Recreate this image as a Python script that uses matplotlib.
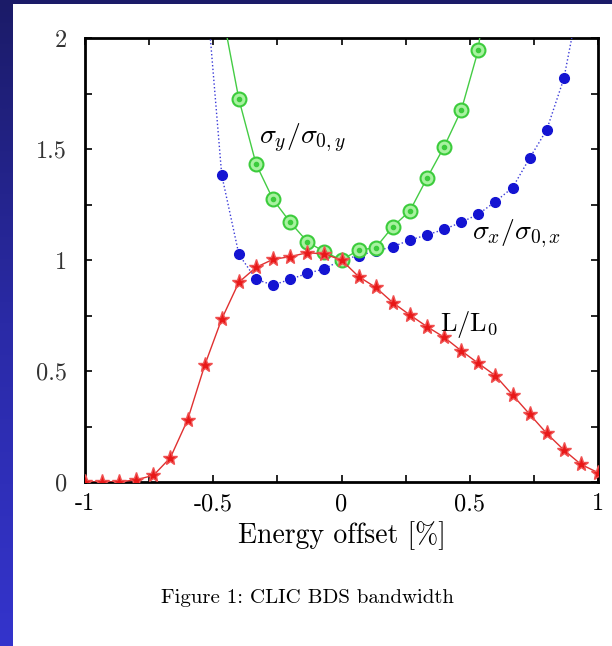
import numpy as np
import matplotlib.pyplot as plt
from matplotlib.colors import LinearSegmentedColormap

# energy offset [%] and normalised quantities
lum_x = [-1.0, -0.933, -0.867, -0.8, -0.733, -0.667, -0.6, -0.533, -0.467, -0.4,
         -0.333, -0.267, -0.2, -0.133, -0.067, 0.0, 0.067, 0.133, 0.2, 0.267,
         0.333, 0.4, 0.467, 0.533, 0.6, 0.667, 0.733, 0.8, 0.867, 0.933, 1.0]
lum_y = [0.0, 0.0, 0.0, 0.01, 0.03, 0.11, 0.28, 0.527, 0.734, 0.9,
         0.967, 1.003, 1.015, 1.033, 1.027, 1.0, 0.925, 0.877, 0.808, 0.752,
         0.70, 0.652, 0.591, 0.535, 0.479, 0.392, 0.306, 0.219, 0.144, 0.08, 0.042]

sx_x = [-0.533, -0.467, -0.4, -0.333, -0.267, -0.2, -0.133, -0.067, 0.0, 0.067,
        0.133, 0.2, 0.267, 0.333, 0.4, 0.467, 0.533, 0.6, 0.667, 0.733,
        0.8, 0.867, 0.933]
sx_y = [2.3, 1.383, 1.025, 0.913, 0.887, 0.913, 0.94, 0.96, 1.0, 1.02,
        1.04, 1.06, 1.09, 1.113, 1.138, 1.17, 1.206, 1.263, 1.326, 1.458,
        1.586, 1.818, 2.21]

sy_x = [-0.467, -0.4, -0.333, -0.267, -0.2, -0.133, -0.067, 0.0, 0.067, 0.133,
        0.2, 0.267, 0.333, 0.4, 0.467, 0.533, 0.6]
sy_y = [2.13, 1.724, 1.432, 1.273, 1.17, 1.082, 1.037, 1.0, 1.045, 1.055,
        1.15, 1.222, 1.368, 1.51, 1.675, 1.945, 2.6]

xticks = [-1, -0.5, 0, 0.5, 1]
xticklabels = ['-1', '-0.5', '0', '0.5', '1']
yticks = [0, 0.5, 1, 1.5, 2]
yticklabels = ['0', '0.5', '1', '1.5', '2']

plt.rcParams['font.family'] = ['cmr10', 'DejaVu Serif']
plt.rcParams['mathtext.fontset'] = 'cm'

fig = plt.figure(figsize=(6.12, 6.46), dpi=100, facecolor='white')

# slide background: blue strip on the left, dark band on top
bg = fig.add_axes([0, 0, 13 / 612, 1])
grad = np.linspace(0, 1, 256).reshape(-1, 1)
cmap = LinearSegmentedColormap.from_list('slide', ['#1b1b68', '#2a2aa6', '#3434cc'])
bg.imshow(grad, aspect='auto', cmap=cmap, extent=[0, 1, 0, 1], origin='upper')
bg.set_axis_off()
top = fig.add_axes([0, 1 - 4 / 646, 1, 4 / 646])
top.set_axis_off()
top.add_patch(plt.Rectangle((0, 0), 1, 1, color='#1b1b68', transform=top.transAxes))

ax = fig.add_axes([85 / 612, 164 / 646, 513 / 612, 444 / 646])

ax.plot(sx_x, sx_y, color='#3a3ad8', lw=1.0, ls=':', marker='o', markersize=7,
        markerfacecolor='#1414d2', markeredgecolor='#1414d2', zorder=3)
ax.plot(sy_x, sy_y, color='#44cc44', lw=1.0, marker='o', markersize=10,
        markerfacecolor='#a8f2a0', markeredgecolor='#3ccc3c', markeredgewidth=1.5, zorder=4)
ax.plot(sy_x, sy_y, ls='none', marker='o', markersize=3, color='#3ccc3c', zorder=4)
ax.plot(lum_x, lum_y, color='#e03030', lw=1.0, marker='*', markersize=11,
        markerfacecolor='#e81818', markeredgecolor='#f05050', zorder=5)

ax.set_xlim(-1, 1)
ax.set_ylim(0, 2)
ax.set_xticks(xticks)
ax.set_xticklabels(xticklabels)
ax.set_yticks(yticks)
ax.set_yticklabels(yticklabels)
ax.set_xticks(np.arange(-1, 1.01, 0.25), minor=True)
ax.set_yticks(np.arange(0, 2.01, 0.25), minor=True)
ax.tick_params(which='both', direction='in', top=True, right=True, length=5, width=1.2)
ax.tick_params(axis='x', labelsize=17.5, pad=8)
ax.tick_params(axis='y', labelsize=17.5, pad=13, labelcolor='#333333')
for s in ax.spines.values():
    s.set_linewidth(2)

ax.set_xlabel('Energy offset [%]', fontsize=20, labelpad=4)

ax.text(-0.32, 1.55, r'$\sigma_y/\sigma_{0,y}$', fontsize=20, va='center', zorder=6)
ax.text(0.51, 1.12, r'$\sigma_x/\sigma_{0,x}$', fontsize=20, va='center', zorder=6)
ax.text(0.385, 0.71, r'$\mathrm{L/L_0}$', fontsize=19, va='center', zorder=6)

fig.text(0.503, 1 - 598 / 646, 'Figure 1: CLIC BDS bandwidth', fontsize=15,
         ha='center', va='center')

plt.savefig('out.png', dpi=100, facecolor='white')
